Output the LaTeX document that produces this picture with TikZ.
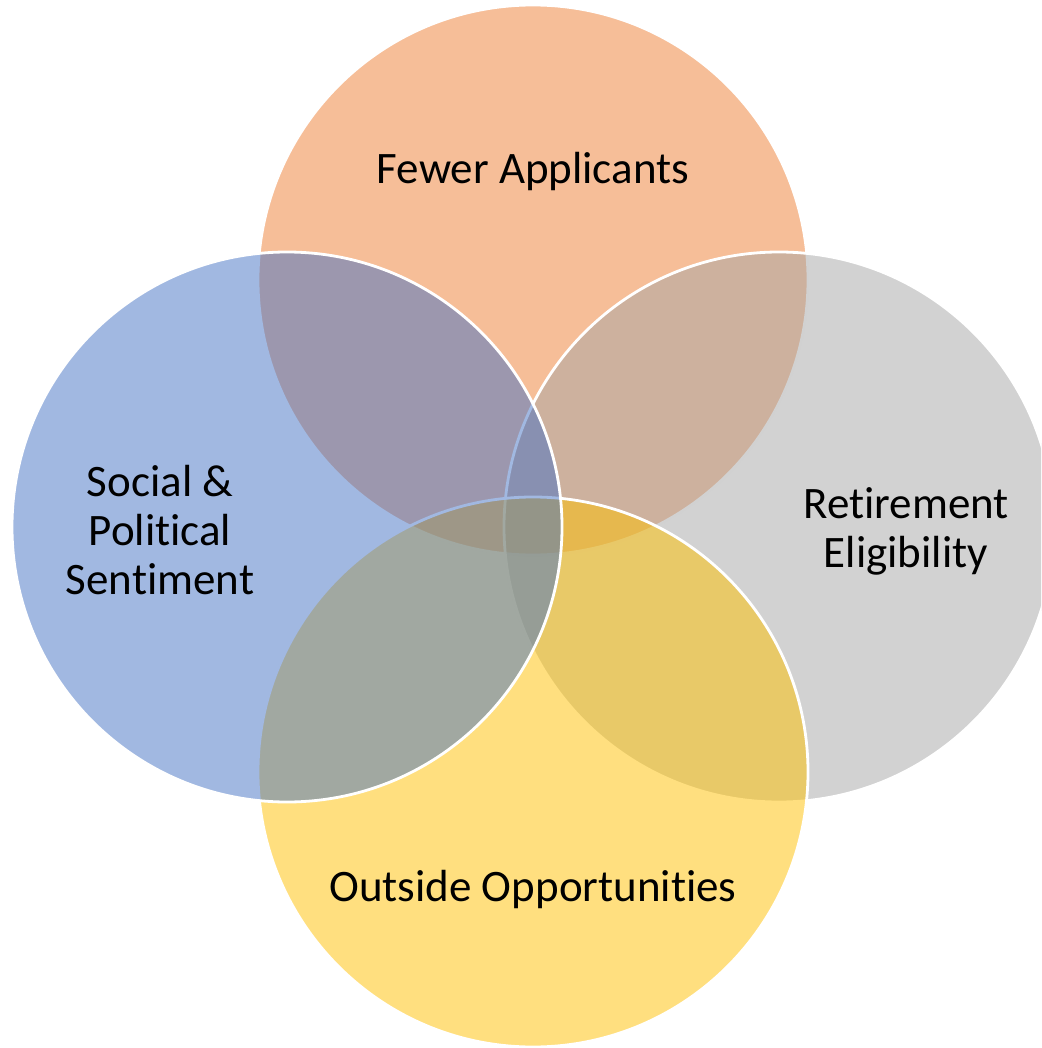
\documentclass[tikz,border=0pt]{standalone}
\usepackage{fontspec}
\setmainfont[RawFeature={-liga;-clig;-calt;-dlig}]{Carlito}
\definecolor{cOrange}{HTML}{ED7D31}
\definecolor{cBlue}{HTML}{4472C4}
\definecolor{cGray}{HTML}{A5A5A5}
\definecolor{cYellow}{HTML}{FFC000}
\begin{document}
\begin{tikzpicture}[x=1pt,y=-1pt,
  venn/.style={circle, inner sep=0pt, minimum size=550pt, fill opacity=0.5, draw=white, draw opacity=1, line width=2.8pt},
  lbl/.style={align=center, text=black, font=\fontsize{45}{49}\selectfont}]
\useasboundingbox (0,0) rectangle (1041,1048);
\clip (0,0) rectangle (1041,1048);
\node[venn, fill=cOrange] (top) at (533,280) {};
\node[venn, fill=cGray] (right) at (779,527) {};
\node[venn, fill=cYellow] (bottom) at (533,772) {};
\node[venn, fill=cBlue] (left) at (287,527) {};
\node[lbl] (tl) at (533,172) {Fewer Applicants};
\node[lbl] (rl) at (906,531) {Retirement\\Eligibility};
\node[lbl] (bl) at (533,889) {Outside Opportunit\kern0pt ies};
\node[lbl] (ll) at (160,530) {Social \&\\Political\\Sentiment};
\end{tikzpicture}
\end{document}
